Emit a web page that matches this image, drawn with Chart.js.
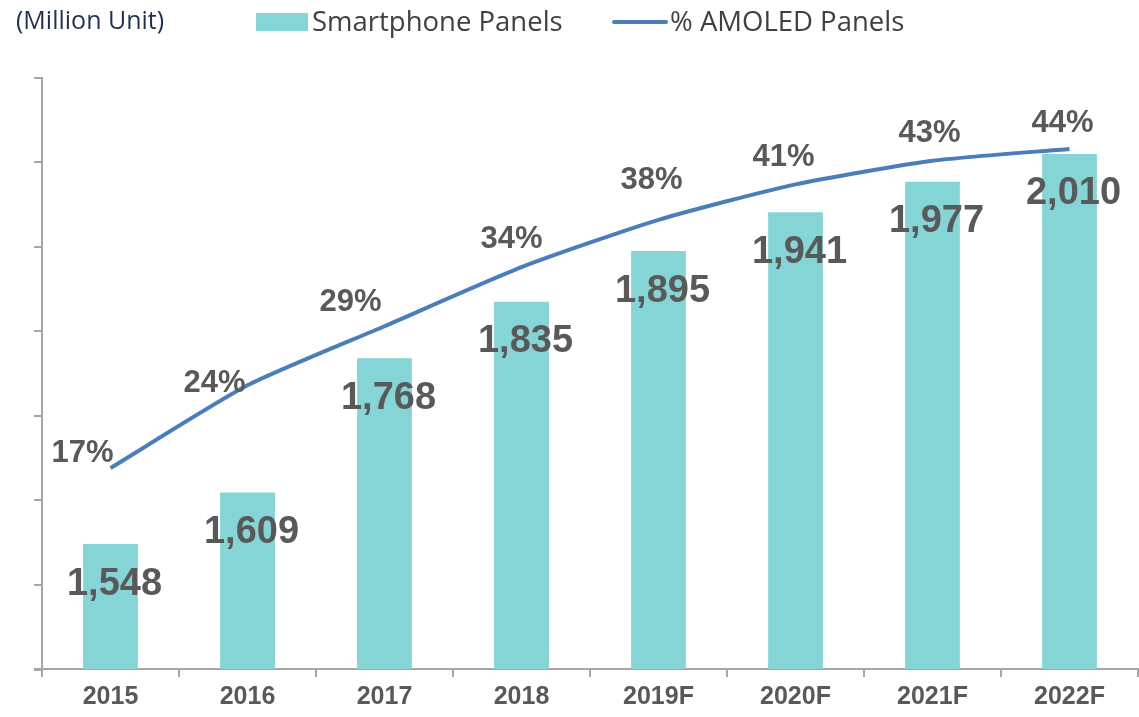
<!DOCTYPE html>
<html lang="en">
<head>
  <meta charset="UTF-8">
  <title>Smartphone Panels</title>
  <style>
    html, body { margin: 0; padding: 0; background: #fff; }
    #wrap { width: 1139px; height: 717px; position: relative; }
  </style>
</head>
<body>
  <div id="wrap"><canvas id="graphic"></canvas></div>

  <script src="https://cdn.jsdelivr.net/npm/chart.js"></script>
  <script>
    // data
    const years = ["2015", "2016", "2017", "2018", "2019F", "2020F", "2021F", "2022F"];
    const panels = [1548, 1609, 1768, 1835, 1895, 1941, 1977, 2010];
    const amoledPct = [17, 24, 29, 34, 38, 41, 43, 44];
    const unitLabel = "(Million Unit)";

    const barColor = "#86D5D6";
    const lineColor = "#4A7EBB";
    const labelColor = "#595959";
    const axisColor = "#A6A6A6";

    // header: unit text + legend
    const header = {
      id: "header",
      afterDraw(chart) {
        const ctx = chart.ctx;
        const ds = chart.data.datasets;
        ctx.save();
        ctx.textBaseline = "middle";
        ctx.textAlign = "left";
        ctx.font = '25px "Open Sans", sans-serif';
        ctx.fillStyle = "#1F3050";
        ctx.fillText(unitLabel, 16, 22);

        ctx.fillStyle = ds[0].backgroundColor;
        ctx.fillRect(256, 13, 52, 18);
        ctx.font = '27.5px "Open Sans", sans-serif';
        ctx.fillStyle = "#404040";
        ctx.fillText(ds[0].label, 312, 23);

        ctx.strokeStyle = ds[1].borderColor;
        ctx.lineWidth = 4;
        ctx.lineCap = "round";
        ctx.beginPath();
        ctx.moveTo(614, 22);
        ctx.lineTo(666, 22);
        ctx.stroke();
        ctx.fillStyle = "#404040";
        ctx.fillText(ds[1].label, 670, 23);

        // x axis line runs a little past the y axis
        const a = chart.chartArea;
        ctx.strokeStyle = axisColor;
        ctx.lineWidth = 2;
        ctx.lineCap = "butt";
        ctx.beginPath();
        ctx.moveTo(a.left - 8, a.bottom + 1);
        ctx.lineTo(a.left, a.bottom + 1);
        ctx.stroke();
        ctx.restore();
      }
    };

    // value labels on bars and line
    const valueLabels = {
      id: "valueLabels",
      afterDatasetsDraw(chart, args, opts) {
        const ctx = chart.ctx;
        ctx.save();
        ctx.fillStyle = labelColor;
        ctx.textAlign = "center";
        ctx.textBaseline = "middle";
        ctx.font = 'bold 38px "Liberation Sans", Arial, sans-serif';
        chart.getDatasetMeta(0).data.forEach((bar, i) => {
          ctx.fillText(panels[i].toLocaleString("en-US"), bar.x + 4, bar.y + 40);
        });
        ctx.font = 'bold 31px "Liberation Sans", Arial, sans-serif';
        chart.getDatasetMeta(1).data.forEach((pt, i) => {
          const s = opts.pctShift[i];
          ctx.fillText(amoledPct[i] + "%", pt.x + s[0], pt.y + s[1]);
        });
        ctx.restore();
      }
    };

    new Chart(document.getElementById("graphic"), {
      data: {
        labels: years,
        datasets: [
          {
            type: "bar",
            label: "Smartphone Panels",
            data: panels,
            backgroundColor: barColor,
            yAxisID: "y",
            order: 2,
            categoryPercentage: 1,
            barPercentage: 0.4
          },
          {
            type: "line",
            label: "% AMOLED Panels",
            data: amoledPct,
            borderColor: lineColor,
            borderWidth: 4,
            pointRadius: 0,
            tension: 0.2,
            fill: false,
            yAxisID: "y2",
            order: 1
          }
        ]
      },
      options: {
        responsive: true,
        maintainAspectRatio: false,
        animation: false,
        layout: { padding: { top: 78, left: 0, right: 1, bottom: 0 } },
        plugins: {
          legend: { display: false },
          tooltip: { enabled: false },
          valueLabels: {
            pctShift: [[-28, -15], [-33, -2], [-34, -24], [-10, -28], [-7, -39], [-12, -27], [-3, -27], [-7, -25]]
          }
        },
        scales: {
          x: {
            offset: true,
            grid: { offset: true, drawOnChartArea: false, tickLength: 8, color: axisColor, lineWidth: 2 },
            border: { color: axisColor, width: 2 },
            ticks: {
              color: labelColor,
              padding: 5,
              font: { family: '"Liberation Sans", Arial, sans-serif', size: 25, weight: "bold" }
            },
            afterFit(scale) { scale.height = 48; }
          },
          y: {
            min: 1400,
            max: 2100,
            ticks: { display: false, stepSize: 100 },
            grid: { drawOnChartArea: false, tickLength: 8, color: axisColor, lineWidth: 2 },
            border: { color: axisColor, width: 2 },
            afterFit(scale) { scale.width = 42; }
          },
          y2: {
            display: false,
            min: 0,
            max: 50
          }
        }
      },
      plugins: [header, valueLabels]
    });
  </script>
</body>
</html>
